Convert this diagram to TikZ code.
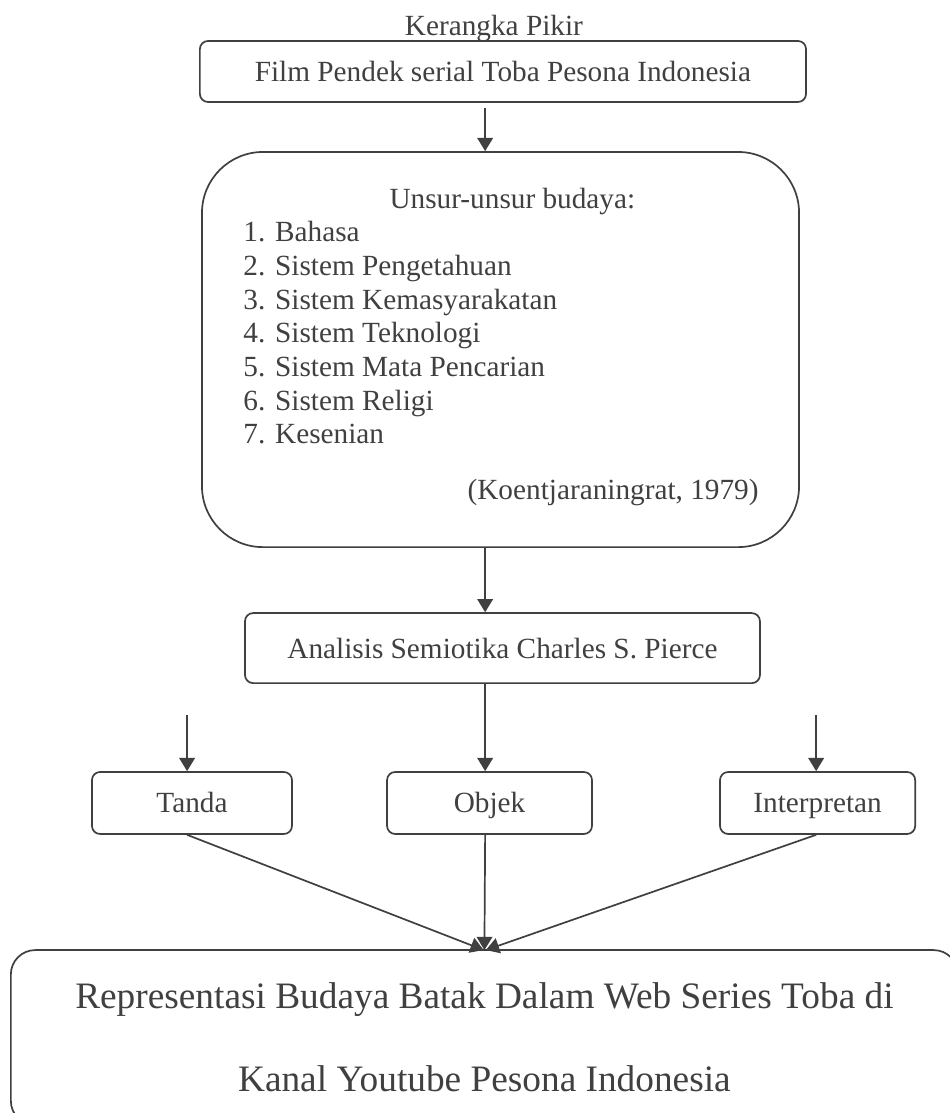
\documentclass[tikz,border=0pt]{standalone}
\usepackage{fontspec}
\setmainfont{Liberation Serif}
\usepackage{xcolor}
\usepackage{tikz}
\usetikzlibrary{positioning,arrows.meta}

\definecolor{ink}{HTML}{404040}

\begin{document}
\begin{tikzpicture}[
  x=1pt, y=1pt,
  font=\fontsize{12}{13.8}\selectfont,
  every node/.style={text=ink, inner sep=0pt},
  box/.style={draw=ink, line width=0.7pt, rounded corners=#1, align=center},
  box/.default=3.3pt,
  sign/.style={box, minimum height=25.4pt, text height=7.9pt, text depth=0pt},
  arr/.style={-{Triangle[length=5.4pt,width=6.4pt]}, draw=ink, line width=0.7pt}
]
\useasboundingbox (0,0) rectangle (389.1,-456.3);

\node[anchor=base] (judul) at (202.5,-14.35) {Kerangka Pikir};
\node[box, minimum width=248.5pt, minimum height=25pt] (film) at (206.2,-29.3) {Film Pendek serial Toba Pesona Indonesia};

% unsur budaya
\node[box=25pt, minimum width=244.8pt, minimum height=162pt] (budaya) at (205.2,-143.3) {};
\node[anchor=base west] (unsur) at (159.5,-85.3) {Unsur-unsur budaya:};
\foreach \t [count=\i] in {Bahasa, Sistem Pengetahuan, Sistem Kemasyarakatan, Sistem Teknologi, Sistem Mata Pencarian, Sistem Religi, Kesenian}
  \node[anchor=base west] (item\i) at (99.6,{-99.2-(\i-1)*13.8}) {\i. \t};
\node[anchor=base east] (sumber) at (311.2,-204.6) {(Koentjaraningrat, 1979)};

\node[box, minimum width=211.1pt, minimum height=28.7pt] (analisis) at (206,-265.7) {Analisis Semiotika Charles S. Pierce};

\node[sign, minimum width=82pt] (tanda) at (78.7,-329.2) {Tanda};
\node[sign, minimum width=84pt] (objek) at (200.7,-329.2) {Objek};
\node[sign, minimum width=80pt] (interp) at (335.2,-329.2) {Interpretan};

\node[box=10pt, minimum width=388.3pt, minimum height=71.8pt, font=\fontsize{15.3}{34}\selectfont] (hasil) at (198.6,-425.4) {Representasi Budaya Batak Dalam Web Series Toba di\\Kanal Youtube Pesona Indonesia};

\coordinate (spine) at (198.9,0);
\coordinate (tin) at (76.7,-293.2);
\coordinate (iin) at (334.6,-293.2);
\coordinate (hub) at (198.6,-389.5);

\draw[arr, shorten <=2pt] (film.south -| spine) -- (budaya.north -| spine);
\draw[arr] (budaya.south -| spine) -- (analisis.north -| spine);
\draw[arr] (analisis.south -| spine) -- (objek.north -| spine);
\draw[arr] (tin) -- (tanda.north -| tin);
\draw[arr] (iin) -- (interp.north -| iin);
\draw[arr] (tanda.south -| tin) -- ([xshift=-0.3pt]hub);
\draw[arr] (objek.south -| spine) -- (hub);
\draw[arr] (interp.south -| iin) -- ([xshift=0.6pt]hub);
\end{tikzpicture}
\end{document}
